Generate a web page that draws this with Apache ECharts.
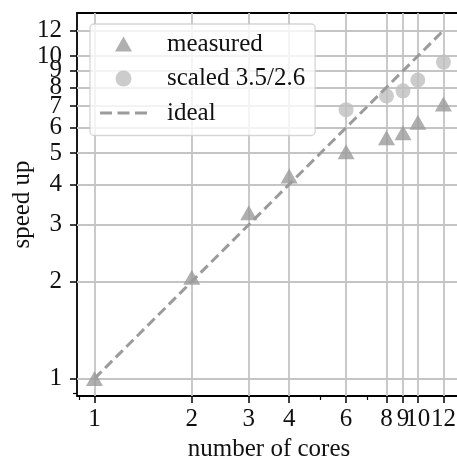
<!DOCTYPE html>
<html style="height: 100%">
<head>
  <meta charset="utf-8">
</head>
<body style="height: 100%; margin: 0">
  <div id="container" style="width: 457px; height: 463px"></div>
  <script type="text/javascript" src="https://cdn.jsdelivr.net/npm/echarts@6/dist/echarts.min.js"></script>
  <script type="text/javascript">
    // values
    var cores = [1, 2, 3, 4, 6, 8, 9, 10, 12];
    var measured = [1.0, 2.06, 3.27, 4.25, 5.05, 5.58, 5.78, 6.23, 7.1];
    var scaledCores = [6, 8, 9, 10, 12];
    var scaled = [6.82, 7.52, 7.8, 8.43, 9.58];
    var idealX = [1, 12];
    var idealY = [1, 12];

    var xTicks = [1, 2, 3, 4, 6, 8, 9, 10, 12];
    var yTicks = [1, 2, 3, 4, 5, 6, 7, 8, 9, 10, 12];
    var xMinor = [0.9, 5, 7];
    var yMinor = [0.9];

    var FONT = 'Liberation Serif';
    var FS = 25;
    var LO = 0.883, HI = 13.6;
    // legend icons drawn in the 47x16 item box (corner points keep the box size)
    var TRI_ICON = 'path://M0,0L0,0M47,16L47,16M23.5,0.5L32,15.5L15,15.5Z';
    var DASH_ICON = 'path://M0,0h12v3h-12z M17.5,0h12v3h-12z M35,0h12v3h-12z';

    function pairs(xs, ys) {
      return xs.map(function (x, i) { return [x, ys[i]]; });
    }

    var dom = document.getElementById('container');
    var myChart = echarts.init(dom, null, { renderer: 'canvas' });

    var option = {
      animation: false,
      textStyle: { fontFamily: FONT },
      grid: {
        left: 77, width: 384, top: 13, height: 383,
        outerBoundsMode: 'none',
        show: true, borderColor: '#000', borderWidth: 1.8,
        containLabel: false
      },
      legend: {
        orient: 'vertical',
        left: 90, top: 24,
        padding: [7.5, 10, 10, 10],
        itemWidth: 47, itemHeight: 16, itemGap: 9.5,
        backgroundColor: 'rgba(255,255,255,0.8)',
        borderColor: 'rgba(204,204,204,0.8)',
        borderWidth: 1.3, borderRadius: 4,
        textStyle: { fontFamily: FONT, fontSize: FS, color: '#111', padding: [0, 0, 0, 15] },
        data: [
          { name: 'measured', icon: TRI_ICON },
          { name: 'scaled 3.5/2.6', icon: 'circle' },
          { name: 'ideal', icon: DASH_ICON }
        ]
      },
      xAxis: [{
        type: 'log', min: LO, max: HI,
        name: 'number of cores', nameLocation: 'middle', nameGap: 34,
        nameTextStyle: { fontFamily: FONT, fontSize: FS, color: '#111' },
        axisLine: { show: false },
        axisTick: { show: true, length: 7, inside: false, customValues: xTicks, lineStyle: { color: '#000', width: 1.5 } },
        axisLabel: { customValues: xTicks, margin: 11, fontFamily: FONT, fontSize: FS, color: '#111',
          formatter: function (v) { return String(Math.round(v)); } },
        splitLine: { show: true, lineStyle: { color: '#c4c4c4', width: 1.8 } }
      }, {
        type: 'log', min: LO, max: HI, position: 'bottom',
        axisLine: { show: false },
        axisTick: { show: true, length: 4, customValues: xMinor, lineStyle: { color: '#000', width: 1.2 } },
        axisLabel: { show: false },
        splitLine: { show: false }
      }],
      yAxis: [{
        type: 'log', min: LO, max: HI,
        name: 'speed up', nameLocation: 'middle', nameGap: 42, nameRotate: 90,
        nameMoveOverlap: false,
        nameTextStyle: { fontFamily: FONT, fontSize: FS, color: '#111' },
        axisLine: { show: false },
        axisTick: { show: true, length: 7, customValues: yTicks, lineStyle: { color: '#000', width: 1.5 } },
        axisLabel: { customValues: yTicks, margin: 15, fontFamily: FONT, fontSize: FS, color: '#111',
          formatter: function (v) { return String(Math.round(v)); } },
        splitLine: { show: true, lineStyle: { color: '#c4c4c4', width: 1.8 } }
      }, {
        type: 'log', min: LO, max: HI, position: 'left',
        axisLine: { show: false },
        axisTick: { show: true, length: 4, customValues: yMinor, lineStyle: { color: '#000', width: 1.2 } },
        axisLabel: { show: false },
        splitLine: { show: false }
      }],
      series: [{
        name: 'measured', type: 'scatter',
        symbol: 'triangle', symbolSize: [17, 15],
        itemStyle: { color: '#9b9b9b' },
        data: pairs(cores, measured)
      }, {
        name: 'scaled 3.5/2.6', type: 'scatter',
        symbol: 'circle', symbolSize: 15,
        itemStyle: { color: '#bfbfbf' },
        data: pairs(scaledCores, scaled)
      }, {
        name: 'ideal', type: 'line',
        symbol: 'none', showSymbol: false,
        lineStyle: { color: '#9b9b9b', width: 3, type: [10, 5] },
        itemStyle: { color: '#9b9b9b' },
        data: pairs(idealX, idealY)
      }]
    };

    myChart.setOption(option);
    window.addEventListener('resize', myChart.resize);
  </script>
</body>
</html>
